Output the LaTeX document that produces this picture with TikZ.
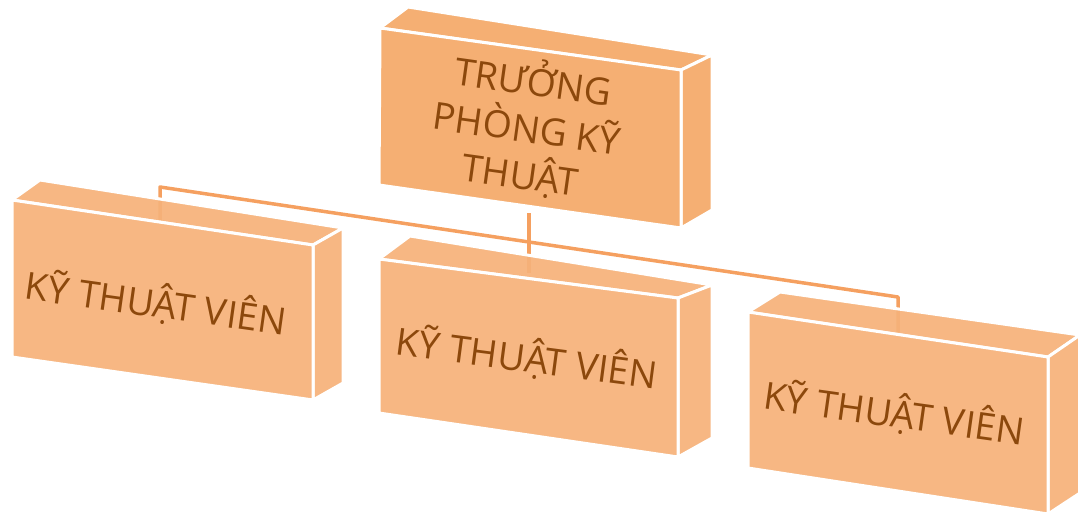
\documentclass[tikz,border=0pt]{standalone}
\usepackage{fontspec}
\setmainfont{Open Sans}
\definecolor{topfill}{HTML}{F4A968}
\definecolor{boxfill}{HTML}{F6B27A}
\definecolor{linec}{HTML}{F5A060}
\definecolor{txt}{HTML}{8C480C}
\newcommand\solidbox[2]{%
  \path[face,fill=#2] (#1ftl) -- (#1ftr) -- (#1btr) -- (#1btl) -- cycle;
  \path[face,fill=#2] (#1ftr) -- (#1btr) -- (#1bbr) -- (#1fbr) -- cycle;
  \path[face,fill=#2] (#1ftl) -- (#1ftr) -- (#1fbr) -- (#1fbl) -- cycle;}
\begin{document}
\begin{tikzpicture}[x=1pt,y=-1pt,
  face/.style={draw=white,line width=3pt,line join=round,fill opacity=0.93},
  lbl/.style={text=txt,font=\fontsize{37.5}{47}\selectfont,align=center,inner sep=0pt},
  conn/.style={draw=linec,line width=3.5pt,line join=round}]
\useasboundingbox (0,0) rectangle (1078,512);
\clip (0,0) rectangle (1078,512);
% top box
\coordinate (tftl) at (380,28);  \coordinate (tftr) at (681,70);
\coordinate (tfbr) at (681,228); \coordinate (tfbl) at (379,185);
\coordinate (tbtl) at (408,7);   \coordinate (tbtr) at (712,55);
\coordinate (tbbr) at (712,210);
% left box
\coordinate (aftl) at (12,200);  \coordinate (aftr) at (313,245);
\coordinate (afbr) at (313,400); \coordinate (afbl) at (12,357);
\coordinate (abtl) at (40,180);  \coordinate (abtr) at (343,228);
\coordinate (abbr) at (343,383);
% middle box
\coordinate (bftl) at (379,259); \coordinate (bftr) at (678,298);
\coordinate (bfbr) at (678,457); \coordinate (bfbl) at (379,413);
\coordinate (bbtl) at (410,236); \coordinate (bbtr) at (712,285);
\coordinate (bbbr) at (712,438);
% right box
\coordinate (cftl) at (748,312); \coordinate (cftr) at (1048,357);
\coordinate (cfbr) at (1048,514);\coordinate (cfbl) at (748,468);
\coordinate (cbtl) at (780,292); \coordinate (cbtr) at (1080,335);
\coordinate (cbbr) at (1080,493);
% connector points
\coordinate (j1) at (160,187);  \coordinate (j2) at (898,297);
\coordinate (ain) at (160,220); \coordinate (bin) at (529,273);
\coordinate (cin) at (898,332); \coordinate (tout) at (529,213);
\draw[conn] (ain) -- (j1) -- (j2) -- (cin);
\draw[conn] (tout) -- (bin);
% boxes
\solidbox{t}{topfill}
\solidbox{a}{boxfill}
\solidbox{b}{boxfill}
\solidbox{c}{boxfill}
% labels
\node[lbl,rotate=-8] (tt) at (527,127) {TRƯỞNG\\PHÒNG KỸ\\THUẬT};
\node[lbl,rotate=-8] (ta) at (156,303) {KỸ THUẬT VIÊN};
\node[lbl,rotate=-7.5] (tb) at (527,358) {KỸ THUẬT VIÊN};
\node[lbl,rotate=-8] (tc) at (894,413) {KỸ THUẬT VIÊN};
\end{tikzpicture}
\end{document}
